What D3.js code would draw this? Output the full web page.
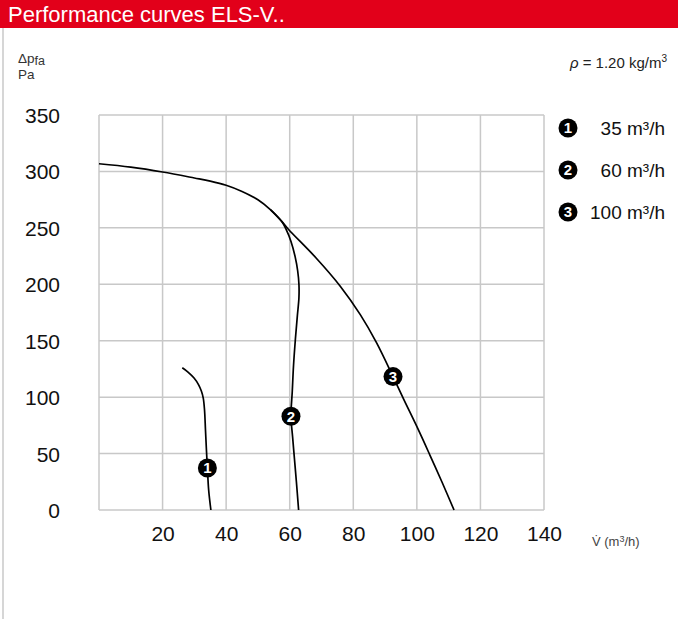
<!DOCTYPE html>
<html>
<head>
<meta charset="utf-8">
<script src="https://cdn.jsdelivr.net/npm/d3@7"></script>
<style>
  body{ margin:0; background:#fff; }
  svg{ display:block; font-family:"Liberation Sans", Arial, Helvetica, sans-serif; }
  .grid line{ stroke:#c8c8c8; stroke-width:1.5; }
  .tick text{ fill:#111; }
</style>
</head>
<body>
<div id="chart"></div>
<script>
// fan curves, flow in m3/h vs static pressure in Pa
var curve1Flow = [26.2, 28.0, 29.9, 31.3, 32.2, 32.8, 33.2, 33.5, 33.8, 34.1, 34.5, 35.2];
var curve1Pressure = [126.0, 122.2, 116.9, 111.1, 105.4, 99.2, 88.6, 70.9, 53.2, 37.2, 17.7, 0];

var curve2Flow = [54, 57.5, 58.8, 60.4, 61.7, 62.5, 62.9, 62.9, 62.4, 61.8, 61.2, 60.8, 60.4, 60.9, 61.5, 62.1, 62.8];
var curve2Pressure = [266, 255.7, 249, 238, 224.5, 212, 200, 188, 172, 152, 128, 105, 83, 65, 45, 25, 0];

var curve3Flow = [0, 10, 20, 30, 35, 40, 45, 50, 54, 57.5, 59.5, 68.3, 75.9, 82.2, 87.3, 92.5, 95.8, 100.2, 104.1, 107.9, 111.7];
var curve3Pressure = [306.8, 303.8, 299.5, 294.2, 291.4, 287.7, 282.2, 274.9, 266, 255.7, 249, 223.3, 198.3, 173.1, 148.3, 118.2, 98.4, 72.7, 48.7, 24.8, 0];

var markerLabels = ["1", "2", "3"];
var markerFlow = [34.1, 60.4, 92.5];
var markerPressure = [37.2, 83, 118.2];

var legendLabels = ["35 m\u00b3/h", "60 m\u00b3/h", "100 m\u00b3/h"];

var xTicks = [20, 40, 60, 80, 100, 120, 140];
var yTicks = [0, 50, 100, 150, 200, 250, 300, 350];

var W = 678, H = 619;
var svg = d3.select("#chart").append("svg").attr("width", W).attr("height", H);

// header bar
svg.append("rect").attr("x", 0).attr("y", 0).attr("width", W).attr("height", 28).attr("fill", "#e2001a");
svg.append("text").attr("x", 8).attr("y", 22).attr("fill", "#fff")
  .style("font-size", "22px").text("Performance curves ELS-V..");
svg.append("line").attr("x1", 3).attr("x2", 3).attr("y1", 28).attr("y2", H)
  .attr("stroke", "#c8c8c8").attr("stroke-width", 1.5);

var x = d3.scaleLinear().domain([0, 140]).range([99, 544]);
var y = d3.scaleLinear().domain([0, 350]).range([510, 115]);

// grid
var grid = svg.append("g").attr("class", "grid");
grid.selectAll("line.v").data(d3.range(0, 141, 20)).enter().append("line")
  .attr("x1", function(d){ return x(d); }).attr("x2", function(d){ return x(d); })
  .attr("y1", y(0)).attr("y2", y(350));
grid.selectAll("line.h").data(yTicks).enter().append("line")
  .attr("y1", function(d){ return y(d); }).attr("y2", function(d){ return y(d); })
  .attr("x1", x(0)).attr("x2", x(140));

// axes (labels only)
var yAxis = svg.append("g").attr("transform", "translate(" + (x(0) - 39) + ",0)")
  .call(d3.axisLeft(y).tickValues(yTicks).tickSize(0).tickPadding(0));
yAxis.select(".domain").remove();
yAxis.selectAll("text").style("font-size", "21px").attr("dy", "0.36em");

var xAxis = svg.append("g").attr("transform", "translate(0," + (y(0) + 16) + ")")
  .call(d3.axisBottom(x).tickValues(xTicks).tickSize(0).tickPadding(0));
xAxis.select(".domain").remove();
xAxis.selectAll("text").style("font-size", "21px").attr("dy", "0.71em");

// axis titles
var yt = svg.append("text").attr("x", 18).attr("y", 63).attr("fill", "#333").style("font-size", "13.5px");
yt.append("tspan").text("\u0394p");
yt.append("tspan").attr("dy", 2).style("font-size", "12.5px").text("fa");
svg.append("text").attr("x", 18).attr("y", 79).attr("fill", "#333").style("font-size", "13.5px").text("Pa");

var rho = svg.append("text").attr("x", 667).attr("y", 68).attr("text-anchor", "end")
  .attr("fill", "#222").style("font-size", "15px");
rho.append("tspan").style("font-style", "italic").text("\u03c1");
rho.append("tspan").text(" = 1.20 kg/m");
rho.append("tspan").attr("dy", -6).style("font-size", "10px").text("3");

var xt = svg.append("text").attr("x", 592).attr("y", 546).attr("fill", "#444").style("font-size", "13px");
xt.append("tspan").text("V\u0307 (m");
xt.append("tspan").attr("dy", -4).style("font-size", "9px").text("3");
xt.append("tspan").attr("dy", 4).text("/h)");

// curves
var line = d3.line()
  .x(function(d){ return x(d[0]); })
  .y(function(d){ return y(d[1]); })
  .curve(d3.curveCatmullRom.alpha(0.5));

[[curve1Flow, curve1Pressure], [curve2Flow, curve2Pressure], [curve3Flow, curve3Pressure]].forEach(function(c){
  svg.append("path").datum(d3.zip(c[0], c[1]))
    .attr("d", line).attr("fill", "none").attr("stroke", "#000").attr("stroke-width", 1.7);
});

// markers on curves
var marks = svg.selectAll("g.mark").data(markerLabels).enter().append("g").attr("class", "mark")
  .attr("transform", function(d, i){ return "translate(" + x(markerFlow[i]) + "," + y(markerPressure[i]) + ")"; });
marks.append("circle").attr("r", 9.5).attr("fill", "#000");
marks.append("text").attr("text-anchor", "middle").attr("dy", "0.36em").attr("fill", "#fff")
  .style("font-size", "15px").style("font-weight", "bold").text(function(d){ return d; });

// legend
var leg = svg.selectAll("g.leg").data(legendLabels).enter().append("g").attr("class", "leg")
  .attr("transform", function(d, i){ return "translate(0," + (128 + i * 42) + ")"; });
leg.append("circle").attr("cx", 568).attr("r", 9.5).attr("fill", "#000");
leg.append("text").attr("x", 568).attr("text-anchor", "middle").attr("dy", "0.36em").attr("fill", "#fff")
  .style("font-size", "15px").style("font-weight", "bold").text(function(d, i){ return markerLabels[i]; });
leg.append("text").attr("x", 665).attr("text-anchor", "end").attr("dy", "0.36em").attr("fill", "#111")
  .style("font-size", "19px").text(function(d){ return d; });
</script>
</body>
</html>
